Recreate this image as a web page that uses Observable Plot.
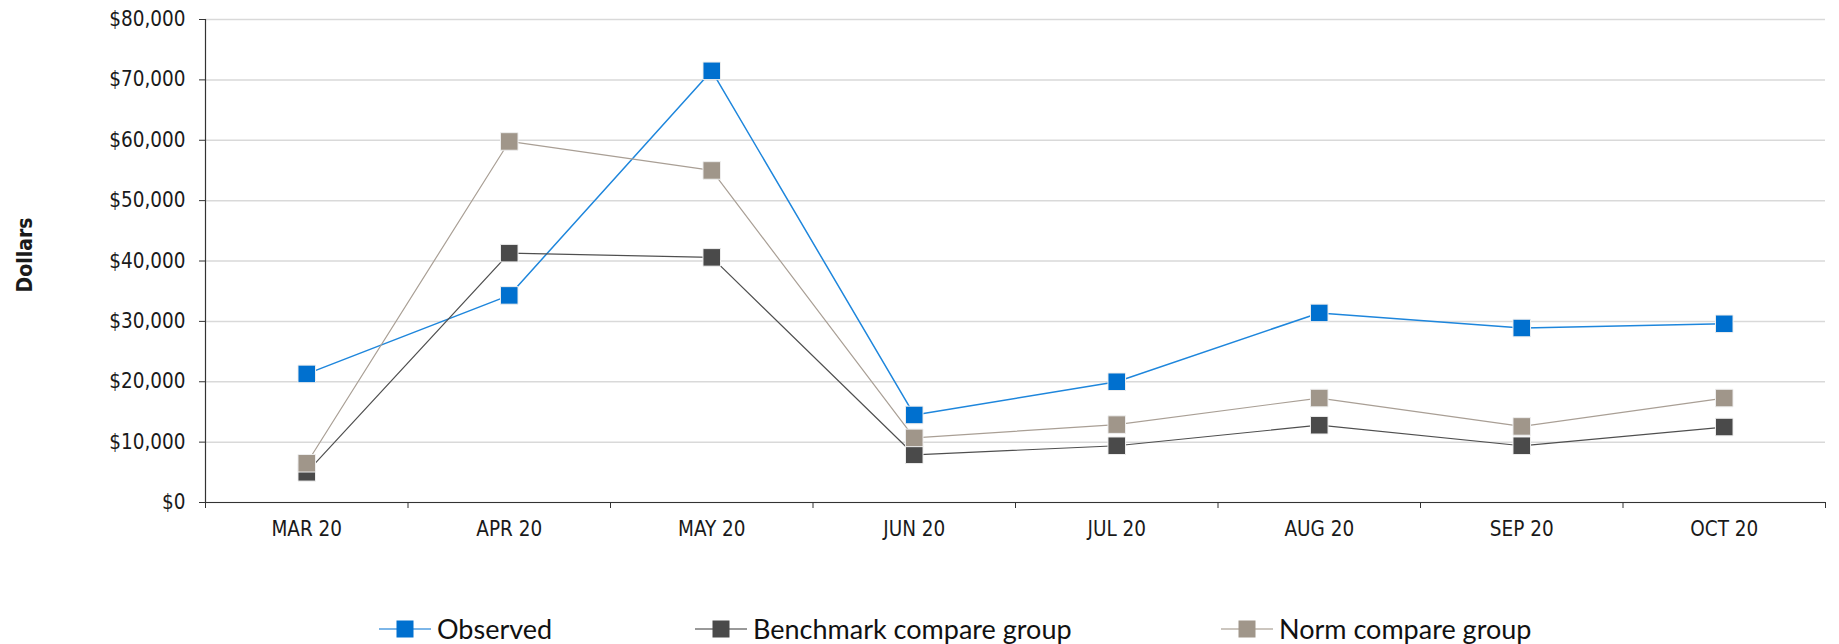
<!DOCTYPE html>
<html>
<head>
<meta charset="utf-8">
<script src="https://cdn.jsdelivr.net/npm/d3@7"></script>
<script src="https://cdn.jsdelivr.net/npm/@observablehq/plot@0.6"></script>
<style>
  body { margin: 0; background: #fff; }
  #wrap { position: relative; width: 1839px; height: 644px; background: #fff;
          font-family: "DejaVu Sans Condensed", "DejaVu Sans", sans-serif; color: #1a1a1a; }
  #legend { position: absolute; left: 0; top: 560px; width: 1839px; height: 84px; }
  .item { position: absolute; top: 52px; height: 34px; display: flex; align-items: center; }
  .item svg { display: block; }
  .item span { font-family: Lato, "Open Sans", sans-serif; font-size: 27px; line-height: 34px;
               white-space: nowrap; margin-left: 6px; color: #111; }
</style>
</head>
<body>
<div id="wrap">
  <div id="chart"></div>
  <div id="legend"></div>
</div>
<script>
// ---- data ----
const months = ["MAR 20", "APR 20", "MAY 20", "JUN 20", "JUL 20", "AUG 20", "SEP 20", "OCT 20"];
const observed  = [21300, 34300, 71500, 14500, 20000, 31400, 28900, 29600];
const benchmark = [5000, 41300, 40600, 7900, 9400, 12800, 9400, 12500];
const norm      = [6500, 59800, 55000, 10700, 12900, 17300, 12600, 17300];
const seriesNames = ["Observed", "Benchmark compare group", "Norm compare group"];
const yTicks = [0, 10000, 20000, 30000, 40000, 50000, 60000, 70000, 80000];
const yTitle = "Dollars";

// ---- styles ----
const markerColors = ["#0070CF", "#4A4A4A", "#A0968A"];
const lineColors   = ["#1E86DC", "#4F4F4F", "#A99F95"];
const legendLineColors = ["#7DB6E8", "#999999", "#CCC6BF"];
const legendX = [379, 695, 1221];

const seriesValues = [observed, benchmark, norm];
const series = seriesNames.map((name, s) => ({
  name,
  rows: months.map((m, i) => ({ month: m, pos: i + 0.5, value: seriesValues[s][i] }))
}));

const marks = [
  Plot.gridY(yTicks, { stroke: "#d9d9d9", strokeOpacity: 1, strokeWidth: 1.5 }),
  Plot.axisY(yTicks, { tickFormat: d3.format("$,"), tickSize: 6, tickPadding: 14, label: null,
                       stroke: "#333", fontSize: 20.5 }),
  Plot.axisX(d3.range(0, months.length + 1), { tickSize: 6, tickFormat: () => "", label: null, stroke: "#333" }),
  Plot.axisX(months.map((m, i) => i + 0.5), { tickSize: 0, tickPadding: 19,
                       tickFormat: d => months[Math.floor(d)], label: null, fontSize: 20.5 }),
  Plot.ruleX([0], { stroke: "#333", strokeWidth: 1.2 }),
  Plot.ruleY([0], { stroke: "#333", strokeWidth: 1.2 }),
  Plot.text([yTitle], { frameAnchor: "left", textAnchor: "middle", dx: -180, dy: -6, rotate: -90,
                        fontWeight: "bold", fontSize: 21, fill: "#1a1a1a" })
];
series.forEach((s, k) => {
  marks.push(Plot.line(s.rows, { x: "pos", y: "value", stroke: lineColors[k], strokeWidth: k === 0 ? 1.5 : 1.2 }));
  marks.push(Plot.dot(s.rows, { x: "pos", y: "value", symbol: "square", r: 9.9,
                                fill: markerColors[k], stroke: "#eeeeee", strokeWidth: 1 }));
});

const chart = Plot.plot({
  width: 1839, height: 560,
  marginLeft: 205, marginRight: 14, marginTop: 19, marginBottom: 58,
  x: { type: "linear", domain: [0, months.length] },
  y: { domain: [0, 80000] },
  style: { fontFamily: '"DejaVu Sans Condensed", "DejaVu Sans", sans-serif', fontSize: "20.5px",
           color: "#1a1a1a", background: "white", overflow: "visible" },
  marks
});
document.getElementById("chart").appendChild(chart);

// ---- legend ----
const legend = document.getElementById("legend");
seriesNames.forEach((name, k) => {
  const item = document.createElement("div");
  item.className = "item";
  item.style.left = legendX[k] + "px";
  item.innerHTML =
    `<svg width="52" height="34"><line x1="0" x2="52" y1="17" y2="17" stroke="${legendLineColors[k]}" stroke-width="2"/>` +
    `<rect x="17.5" y="8.5" width="17" height="17" fill="${markerColors[k]}"/></svg>` +
    `<span>${name}</span>`;
  legend.appendChild(item);
});
</script>
</body>
</html>
